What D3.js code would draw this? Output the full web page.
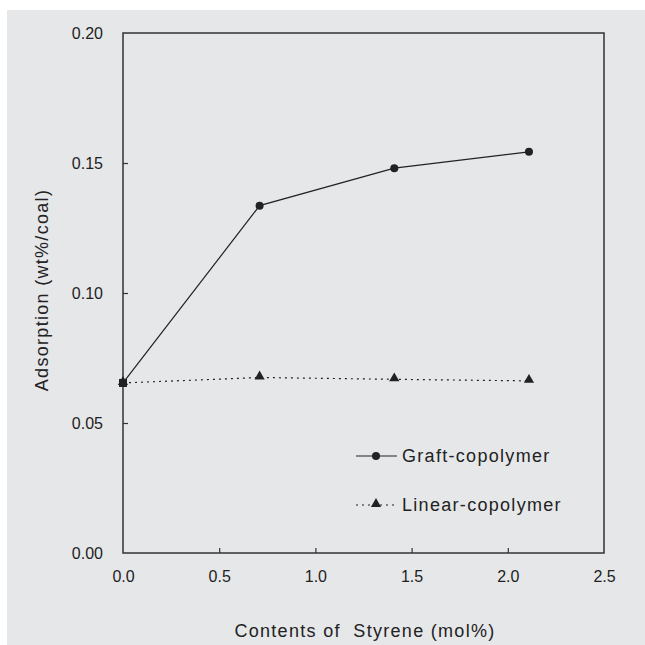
<!DOCTYPE html>
<html>
<head>
<meta charset="utf-8">
<script src="https://cdn.jsdelivr.net/npm/d3@7"></script>
<style>
  html, body { margin: 0; padding: 0; background: #fff; }
  svg { display: block; }
  text { white-space: pre; }
</style>
</head>
<body>
<div id="chart"></div>
<script>
// data
const styrene = [0, 0.71, 1.41, 2.11];
const graftValues = [0.0654, 0.1336, 0.148, 0.1543];
const linearValues = [0.0654, 0.0675, 0.0668, 0.0662];
const xTicks = [0, 0.5, 1.0, 1.5, 2.0, 2.5];
const yTicks = [0, 0.05, 0.10, 0.15, 0.20];
const seriesNames = ['Graft-copolymer', 'Linear-copolymer'];

const width = 645, height = 645;
const margin = {top: 33, right: 41, bottom: 92, left: 123};
const font = '"Liberation Sans", Arial, sans-serif';
const ink = '#222';

const svg = d3.select('#chart').append('svg')
    .attr('width', width)
    .attr('height', height);

// grey page background
svg.append('rect')
    .attr('x', 7).attr('y', 10)
    .attr('width', width - 7).attr('height', height - 10)
    .attr('fill', '#e6e7e9');

const x = d3.scaleLinear().domain([0, 2.5]).range([margin.left, width - margin.right]);
const y = d3.scaleLinear().domain([0, 0.2]).range([height - margin.bottom, margin.top]);

// frame
svg.append('rect')
    .attr('x', x(0)).attr('y', y(0.2))
    .attr('width', x(2.5) - x(0)).attr('height', y(0) - y(0.2))
    .attr('fill', 'none')
    .attr('stroke', '#333')
    .attr('stroke-width', 1.5);

// axes (ticks inward)
const xAxis = svg.append('g')
    .attr('transform', `translate(0,${y(0)})`)
    .call(d3.axisBottom(x).tickValues(xTicks).tickFormat(d3.format('.1f')).tickSizeInner(-5).tickSizeOuter(0).tickPadding(18));
const yAxis = svg.append('g')
    .attr('transform', `translate(${x(0)},0)`)
    .call(d3.axisLeft(y).tickValues(yTicks).tickFormat(d3.format('.2f')).tickSizeInner(-5).tickSizeOuter(0).tickPadding(20));

[xAxis, yAxis].forEach(g => {
    g.select('.domain').remove();
    g.selectAll('line').attr('stroke', '#333').attr('stroke-width', 1.2);
    g.selectAll('text')
        .attr('fill', ink)
        .style('font-family', font)
        .style('font-size', '16px');
});
// hide the tick marks on the frame corners
xAxis.selectAll('.tick').filter(d => d === 0 || d === 2.5).select('line').remove();
yAxis.selectAll('.tick').filter(d => d === 0 || d === 0.2).select('line').remove();

// axis titles
const titleStyle = sel => sel
    .attr('fill', ink)
    .style('font-family', font)
    .style('font-size', '18px')
    .style('letter-spacing', '1.3px');

svg.append('text')
    .attr('x', 365).attr('y', 637)
    .attr('text-anchor', 'middle')
    .call(titleStyle)
    .text('Contents of  Styrene (mol%)');

svg.append('text')
    .attr('transform', `translate(48,${290}) rotate(-90)`)
    .attr('text-anchor', 'middle')
    .call(titleStyle)
    .text('Adsorption (wt%/coal)');

const line = d3.line().x(d => x(d[0])).y(d => y(d[1]));
const graft = styrene.map((s, i) => [s, graftValues[i]]);
const linear = styrene.map((s, i) => [s, linearValues[i]]);

// linear-copolymer: dotted line + triangles
svg.append('path')
    .datum(linear)
    .attr('d', line)
    .attr('fill', 'none')
    .attr('stroke', ink)
    .attr('stroke-width', 1.2)
    .attr('stroke-dasharray', '2,4');

const tri = d3.symbol().type(d3.symbolTriangle).size(45);
svg.append('g').selectAll('path')
    .data(linear)
    .join('path')
    .attr('d', tri)
    .attr('transform', d => `translate(${x(d[0])},${y(d[1]) - 1})`)
    .attr('fill', ink);

// graft-copolymer: solid line + dots
svg.append('path')
    .datum(graft)
    .attr('d', line)
    .attr('fill', 'none')
    .attr('stroke', ink)
    .attr('stroke-width', 1.2);

svg.append('g').selectAll('circle')
    .data(graft)
    .join('circle')
    .attr('cx', d => x(d[0]))
    .attr('cy', d => y(d[1]))
    .attr('r', 4)
    .attr('fill', ink);

// first shared point looks like a small square
svg.append('rect')
    .attr('x', x(styrene[0]) - 4).attr('y', y(linearValues[0]) - 4)
    .attr('width', 8).attr('height', 8)
    .attr('fill', ink);

// legend
const legend = svg.append('g');
const legendRows = [
    {name: seriesNames[0], y: 456, dash: null, mark: 'circle'},
    {name: seriesNames[1], y: 505, dash: '2,4', mark: 'triangle'}
];
legendRows.forEach(r => {
    legend.append('line')
        .attr('x1', 356).attr('x2', 397)
        .attr('y1', r.y).attr('y2', r.y)
        .attr('stroke', ink)
        .attr('stroke-width', 1.2)
        .attr('stroke-dasharray', r.dash);
    if (r.mark === 'circle') {
        legend.append('circle').attr('cx', 376).attr('cy', r.y).attr('r', 4).attr('fill', ink);
    } else {
        legend.append('path').attr('d', tri).attr('transform', `translate(376,${r.y - 1})`).attr('fill', ink);
    }
    legend.append('text')
        .attr('x', 402).attr('y', r.y)
        .attr('dy', '0.35em')
        .call(titleStyle)
        .text(r.name);
});
</script>
</body>
</html>
